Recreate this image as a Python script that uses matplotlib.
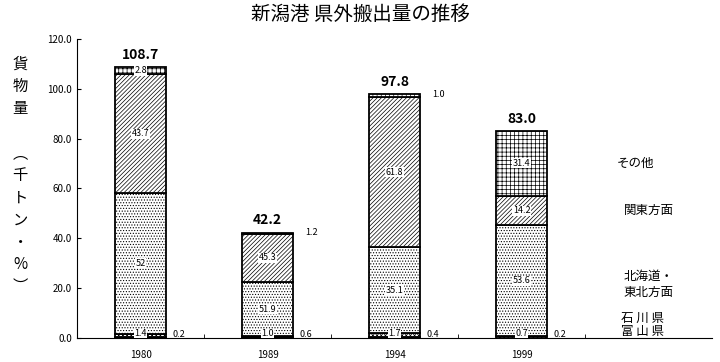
import numpy as np
import matplotlib
matplotlib.use("Agg")
import matplotlib.pyplot as plt

plt.rcParams['font.family'] = ['Noto Sans CJK JP', 'DejaVu Sans']
plt.rcParams['hatch.linewidth'] = 0.5

# data: total (thousand tons) and share (%) by destination
years = ["1980", "1989", "1994", "1999"]
totals = [108.7, 42.2, 97.8, 83.0]
toyama = [0.2, 0.6, 0.4, 0.2]
ishikawa = [1.4, 1.0, 1.7, 0.7]
tohoku = [52, 51.9, 35.1, 53.6]
kanto = [43.7, 45.3, 61.8, 14.2]
other = [2.8, 1.2, 1.0, 31.4]

series = [toyama, ishikawa, tohoku, kanto, other]
pct_text = [["0.2", "0.6", "0.4", "0.2"],
            ["1.4", "1.0", "1.7", "0.7"],
            ["52", "51.9", "35.1", "53.6"],
            ["43.7", "45.3", "61.8", "14.2"],
            ["2.8", "1.2", "1.0", "31.4"]]
hatches = [None, "xxxxxxxx", "......", "////////", "++++"]
faces = ["black", "white", "white", "white", "white"]

fig = plt.figure(figsize=(7.2, 3.62), dpi=100)
ax = fig.add_axes([0.107, 0.0663, 0.882, 0.826])

x = np.arange(len(years))
w = 0.4
bottom = np.zeros(len(years))
centers = []
for k, s in enumerate(series):
    h = np.array(totals) * np.array(s) / 100.0
    ax.bar(x, h, w, bottom=bottom, color=faces[k], hatch=hatches[k],
           edgecolor="black", linewidth=1.3)
    centers.append(bottom + h / 2)
    for i in range(len(years)):
        if k == 0:
            ax.text(x[i] + w / 2 + 0.05, 1.5, pct_text[k][i], fontsize=6.5,
                    ha="left", va="center")
        elif k == 4 and s[i] < 2:
            ax.text(x[i] + w / 2 + 0.1, bottom[i] + h[i], pct_text[k][i],
                    fontsize=6.5, ha="left", va="center")
        elif k == 1:
            ax.text(x[i], 1.8, pct_text[k][i], fontsize=6.5, ha="center",
                    va="center", bbox=dict(fc="white", ec="none", pad=0.3))
        else:
            ax.text(x[i], bottom[i] + h[i] / 2, pct_text[k][i], fontsize=6.5,
                    ha="center", va="center",
                    bbox=dict(fc="white", ec="none", pad=0.3))
    bottom = bottom + h

for i in range(len(years)):
    ax.text(x[i], totals[i] + 5, f"{totals[i]:.1f}", fontsize=10,
            fontweight="bold", ha="center", va="center")

# labels at right side
lx = 4.0
ax.text(lx - 0.1, centers[4][3], "その他", fontsize=9, ha="center", va="center")
ax.text(lx, centers[3][3], "関東方面", fontsize=9, ha="center", va="center")
ax.text(lx, centers[2][3] - 1.5, "北海道・\n東北方面", fontsize=9, ha="center",
        va="center", linespacing=1.3)
ax.text(lx - 0.05, 7.8, "石 川 県", fontsize=9, ha="center", va="center")
ax.text(lx - 0.05, 2.7, "富 山 県", fontsize=9, ha="center", va="center")

ax.set_xlim(-0.5, 4.5)
ax.set_ylim(0, 120)
ax.set_yticks(np.arange(0, 121, 20))
ax.set_yticklabels([f"{v:.1f}" for v in np.arange(0, 121, 20)], fontsize=7)
ax.set_xticks(x)
ax.set_xticklabels(years, fontsize=7)
ax.set_xticks(np.arange(0.5, 4, 1), minor=True)
ax.tick_params(axis="x", which="major", length=0, pad=9)
ax.tick_params(axis="x", which="minor", direction="in", length=3)
ax.tick_params(axis="y", direction="in", length=3)
ax.spines["top"].set_visible(False)
ax.spines["right"].set_visible(False)

fig.text(0.5, 0.96, "新潟港 県外搬出量の推移", fontsize=14, ha="center", va="center")
fig.text(0.028, 0.515, "貨\n物\n量\n\n︵\n千\nト\nン\n・\n%\n︶", fontsize=11,
         ha="center", va="center", linespacing=1.4)

fig.savefig("out.png", dpi=100)
